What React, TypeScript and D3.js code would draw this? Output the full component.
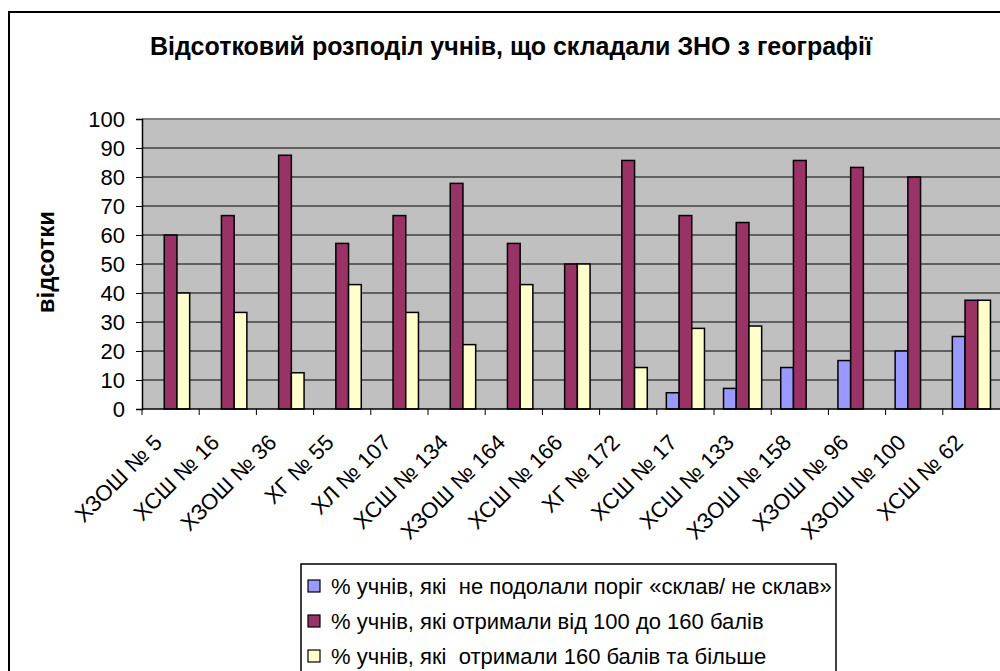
import React, { useEffect, useRef } from "react";
import * as d3 from "d3";

const schools = [
  "ХЗОШ № 5", "ХСШ № 16", "ХЗОШ № 36", "ХГ № 55", "ХЛ № 107",
  "ХСШ № 134", "ХЗОШ № 164", "ХСШ № 166", "ХГ № 172", "ХСШ № 17",
  "ХСШ № 133", "ХЗОШ № 158", "ХЗОШ № 96", "ХЗОШ № 100", "ХСШ № 62",
];
const failed = [0, 0, 0, 0, 0, 0, 0, 0, 0, 5.6, 7.1, 14.3, 16.7, 20, 25];
const mid = [60, 66.7, 87.5, 57.1, 66.7, 77.8, 57.1, 50, 85.7, 66.7, 64.3, 85.7, 83.3, 80, 37.5];
const high = [40, 33.3, 12.5, 42.9, 33.3, 22.2, 42.9, 50, 14.3, 27.8, 28.6, 0, 0, 0, 37.5];
const seriesNames = [
  "% учнів, які  не подолали поріг «склав/ не склав»",
  "% учнів, які отримали від 100 до 160 балів",
  "% учнів, які  отримали 160 балів та більше",
];
const colors = ["#9999FF", "#993366", "#FFFFCC"];
const yTicks = [0, 10, 20, 30, 40, 50, 60, 70, 80, 90, 100];

export default function App() {
  const ref = useRef<SVGSVGElement>(null);

  useEffect(() => {
    const svg = d3.select(ref.current);
    svg.selectAll("*").remove();

    const W = 1000, H = 671;
    const left = 142, right = 1000, top = 119, bottom = 409;
    const font = "'Liberation Sans', Arial, sans-serif";
    const series = [failed, mid, high];

    // рамка діаграми
    svg.append("rect")
      .attr("x", 9).attr("y", 12).attr("width", W + 20).attr("height", H + 20)
      .attr("fill", "white").attr("stroke", "black").attr("stroke-width", 2);

    svg.append("text")
      .attr("x", 511).attr("y", 55)
      .attr("text-anchor", "middle")
      .attr("font-family", font).attr("font-weight", "bold").attr("font-size", 25)
      .text("Відсотковий розподіл учнів, що складали ЗНО з географії");

    const x0 = d3.scaleBand<string>().domain(schools).range([left, right]).paddingInner(0);
    const bw = x0.bandwidth() / 4.5;
    const x1 = d3.scaleBand<number>().domain([0, 1, 2]).range([bw * 0.75, bw * 3.75]);
    const y = d3.scaleLinear().domain([0, 100]).range([bottom, top]);

    svg.append("rect")
      .attr("x", left).attr("y", top).attr("width", right - left + 10).attr("height", bottom - top)
      .attr("fill", "#C0C0C0");
    svg.append("line")
      .attr("x1", left).attr("x2", right + 10).attr("y1", top).attr("y2", top)
      .attr("stroke", "#808080").attr("stroke-width", 2);

    svg.append("g").selectAll("line")
      .data(yTicks.filter((t) => t > 0 && t < 100))
      .join("line")
      .attr("x1", left).attr("x2", right + 10)
      .attr("y1", (d) => y(d)).attr("y2", (d) => y(d))
      .attr("stroke", "black").attr("stroke-width", 1);

    const groups = svg.append("g").selectAll("g")
      .data(schools)
      .join("g")
      .attr("transform", (d) => `translate(${x0(d)},0)`);

    groups.selectAll("rect")
      .data((_, i) => series.map((s, k) => ({ k, v: s[i] })).filter((e) => e.v > 0))
      .join("rect")
      .attr("x", (d) => x1(d.k)!)
      .attr("width", x1.bandwidth())
      .attr("y", (d) => y(d.v))
      .attr("height", (d) => y(0) - y(d.v))
      .attr("fill", (d) => colors[d.k])
      .attr("stroke", "black").attr("stroke-width", 1.5);

    // вісь Y
    const yAxis = svg.append("g")
      .attr("transform", `translate(${left},0)`)
      .call(d3.axisLeft(y).tickValues(yTicks).tickSize(6).tickPadding(11).tickFormat((d) => `${d}`));
    yAxis.select(".domain").attr("stroke", "black").attr("stroke-width", 1.5);
    yAxis.selectAll("text").attr("font-family", font).attr("font-size", 22).attr("fill", "black");

    // вісь X
    const xAxis = svg.append("g").attr("transform", `translate(0,${bottom})`);
    xAxis.append("line")
      .attr("x1", left).attr("x2", right + 10).attr("stroke", "black").attr("stroke-width", 1.5);
    xAxis.selectAll("line.t")
      .data(schools)
      .join("line")
      .attr("class", "t")
      .attr("x1", (d) => x0(d)!).attr("x2", (d) => x0(d)!)
      .attr("y1", 0).attr("y2", 6)
      .attr("stroke", "black");
    xAxis.selectAll("text")
      .data(schools)
      .join("text")
      .attr("transform", (d) => `translate(${x0(d)! + x0.bandwidth() / 2 - 18},${24}) rotate(-45)`)
      .attr("text-anchor", "end")
      .attr("dy", "0.7em")
      .attr("font-family", font).attr("font-size", 22)
      .text((d) => d);

    svg.append("text")
      .attr("transform", `translate(54,262) rotate(-90)`)
      .attr("text-anchor", "middle")
      .attr("font-family", font).attr("font-weight", "bold").attr("font-size", 24)
      .text("відсотки");

    // легенда
    const lg = svg.append("g").attr("transform", "translate(301,564)");
    lg.append("rect")
      .attr("width", 535).attr("height", 130)
      .attr("fill", "white").attr("stroke", "black").attr("stroke-width", 1.5);
    const rows = lg.selectAll("g.row")
      .data(seriesNames)
      .join("g")
      .attr("class", "row")
      .attr("transform", (_, i) => `translate(0,${22 + i * 35})`);
    rows.append("rect")
      .attr("x", 7).attr("y", -6).attr("width", 12).attr("height", 12)
      .attr("fill", (_, i) => colors[i]).attr("stroke", "black").attr("stroke-width", 1.2);
    rows.append("text")
      .attr("x", 30).attr("y", 0).attr("dy", "0.36em")
      .attr("font-family", font).attr("font-size", 22)
      .style("white-space", "pre")
      .text((d) => d);
  }, []);

  return (
    <svg
      ref={ref}
      width={1000}
      height={671}
      style={{ position: "absolute", left: 0, top: 0, background: "white" }}
    />
  );
}
